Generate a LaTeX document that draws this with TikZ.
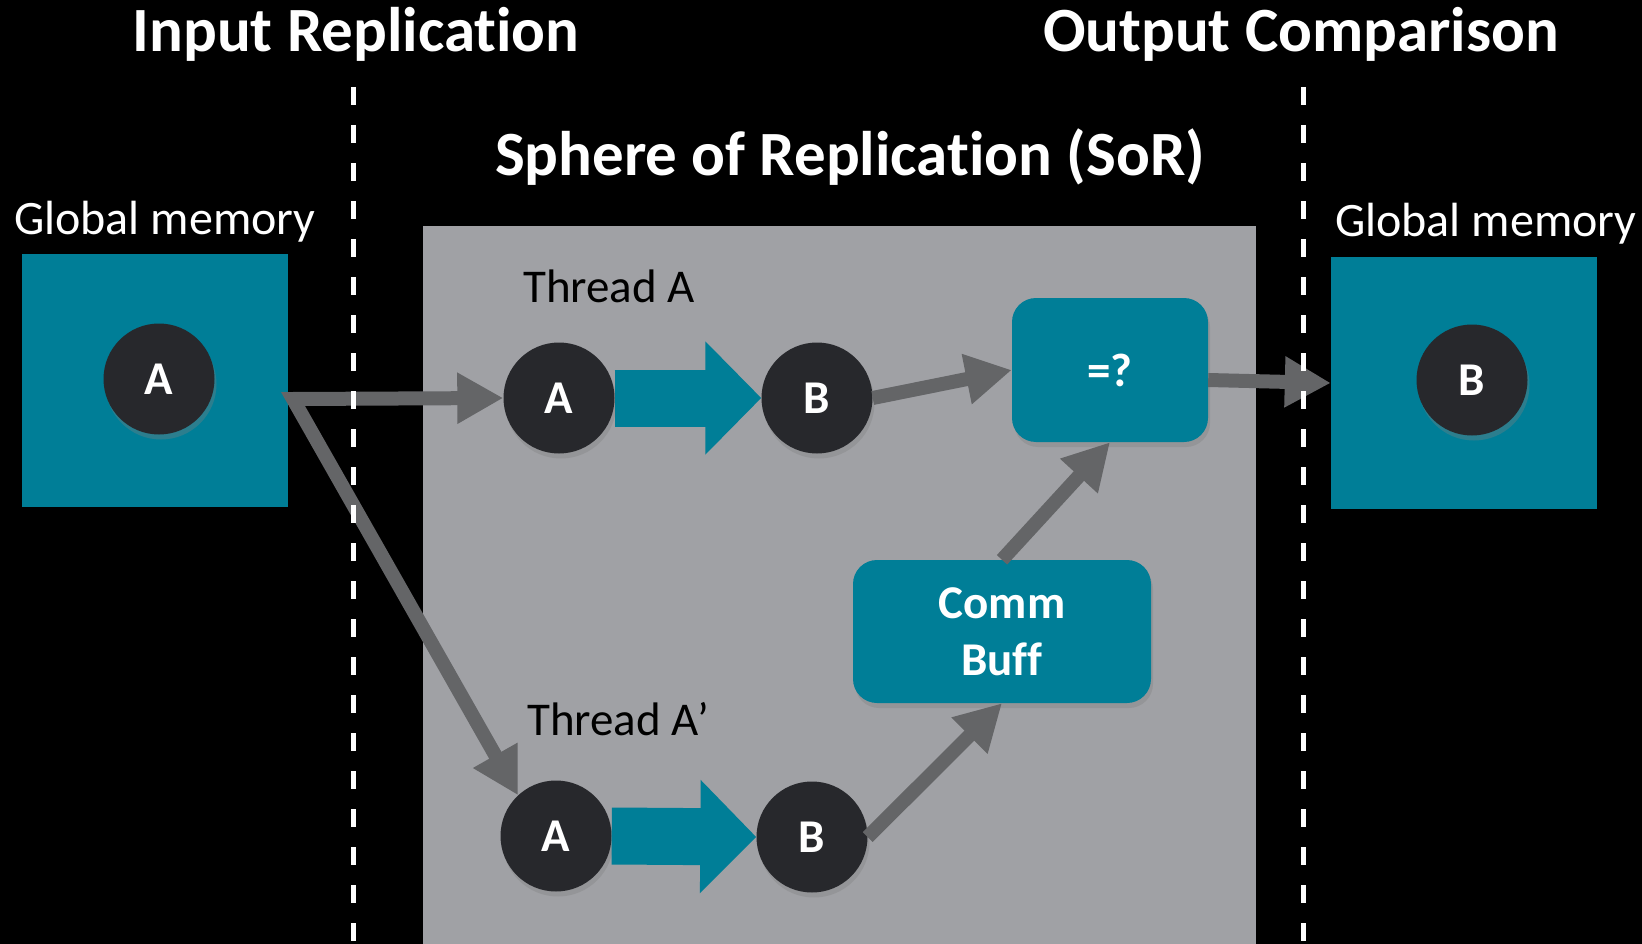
\documentclass[tikz,border=0pt]{standalone}
\usepackage{fontspec}
\setmainfont{Carlito}[Ligatures=NoCommon]
\usetikzlibrary{arrows.meta,shadows,calc}
\definecolor{tealbox}{RGB}{0,126,151}
\definecolor{sorgray}{RGB}{160,161,165}
\definecolor{darkcirc}{RGB}{39,40,44}
\definecolor{arrowgray}{RGB}{100,101,103}
\tikzset{
  memcircle/.style={circle, minimum size=111pt, inner sep=0pt, fill=darkcirc, text=white,
    font=\bfseries\fontsize{47}{56}\selectfont,
    drop shadow={shadow xshift=2pt, shadow yshift=-5pt, opacity=0.35}},
  membox/.style={rectangle, minimum width=266pt, minimum height=253pt, inner sep=0pt, fill=tealbox},
  rbox/.style={rectangle, rounded corners=24pt, inner sep=0pt, fill=tealbox, text=white,
    align=center, font=\bfseries\fontsize{47}{57}\selectfont,
    drop shadow={shadow xshift=2pt, shadow yshift=-5pt, opacity=0.35}},
  title/.style={anchor=base, inner sep=0pt, text=white, font=\bfseries\fontsize{63}{70}\selectfont},
  memlabel/.style={anchor=base west, inner sep=0pt, text=white, font=\fontsize{48}{56}\selectfont},
  threadlabel/.style={anchor=base west, inner sep=0pt, text=black, font=\fontsize{47}{56}\selectfont},
  garrow/.style={draw=arrowgray, line width=14pt, -{Triangle[length=46pt,width=48pt]}},
  blockarrow/.style={draw=tealbox, line width=57pt, -{Triangle[length=56pt,width=110pt]}},
  divider/.style={draw=white, line width=5pt, dash pattern=on 18pt off 20pt}
}
\begin{document}
\begin{tikzpicture}[x=1pt,y=-1pt]
\useasboundingbox (0,0) rectangle (1642,944);
\fill[black] (0,0) rectangle (1642,944);
% sphere of replication area
\fill[sorgray] (423,226) rectangle (1256,944);
% titles
\node[title] (tin) at (356,52) {Input Replication};
\node[title] (tout) at (1301,52) {Output Comparison};
\node[title] (tsor) at (850,176) {Sphere of Replication (SoR)};
\node[memlabel] (gml) at (14,235) {Global memory};
\node[memlabel] (gmr) at (1335,237) {Global memory};
\node[threadlabel] (tha) at (523,302) {Thread A};
\node[threadlabel] (thb) at (527,735) {Thread A’};
% memory boxes
\node[membox] (lbox) at (155,380.5) {};
\node[membox, minimum height=252pt] (rbx) at (1464,383) {};
% circles
\node[memcircle] (lA) at (159,379) {A};
\node[memcircle] (rB) at (1472,380) {B};
\node[memcircle] (A1) at (559,398) {A};
\node[memcircle] (B1) at (817,398) {B};
\node[memcircle] (A2) at (556,836) {A};
\node[memcircle] (B2) at (812,837) {B};
% rounded boxes
\node[rbox, minimum width=196pt, minimum height=144pt] (eq) at (1110,370) {=?};
\node[rbox, minimum width=298pt, minimum height=143pt] (cb) at (1002,631.5) {Comm\\Buff};
% block arrows
\draw[blockarrow] (A1.east) -- (B1.west);
\draw[blockarrow] (A2.east) -- (B2.west);
% gray arrows
\coordinate (split) at (293,399);
\draw[garrow, {Triangle[length=46pt,width=48pt]}-{Triangle[length=46pt,width=48pt]}] (A1.west) -- (split) -- (A2.133);
\draw[garrow] (B1.east) -- (eq.west);
\draw[garrow] ([yshift=-10pt]eq.east) -- (rbx.west);
\draw[garrow] (cb.north) -- (eq.south);
\draw[garrow] (B2.east) -- (cb.south);
% dividers
\coordinate (d1t) at (353,87);
\coordinate (d1b) at (353,944);
\coordinate (d2t) at (1303,87);
\coordinate (d2b) at (1303,944);
\draw[divider] (d1t) -- (d1b);
\draw[divider] (d2t) -- (d2b);
\end{tikzpicture}
\end{document}
